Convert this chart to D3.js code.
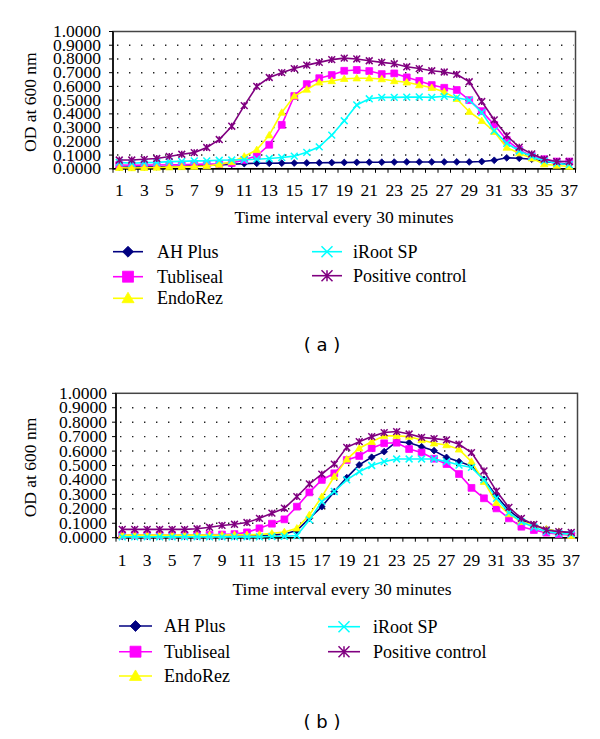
<!DOCTYPE html>
<html>
<head>
<meta charset="utf-8">
<script src="https://cdn.jsdelivr.net/npm/d3@7"></script>
<style>
  html, body { margin: 0; padding: 0; background: #fff; }
  svg { display: block; }
</style>
</head>
<body>
<svg id="chart" width="600" height="739"></svg>
<script>
// ---------------- DATA ----------------
const categories = ["1","2","3","4","5","6","7","8","9","10","11","12","13","14","15","16","17","18","19","20",
  "21","22","23","24","25","26","27","28","29","30","31","32","33","34","35","36","37"];
const xTickLabels = ["1","3","5","7","9","11","13","15","17","19","21","23","25","27","29","31","33","35","37"];
const yTickValues = [0, 0.1, 0.2, 0.3, 0.4, 0.5, 0.6, 0.7, 0.8, 0.9, 1.0];
const seriesNames = ["AH Plus", "Tubliseal", "EndoRez", "iRoot SP", "Positive control"];
const seriesColors = ["#000080", "#FF00FF", "#FFFF00", "#00FFFF", "#800080"];
const seriesMarkers = ["diamond", "square", "triangle", "x", "star"];

// Panel (a)
const aAHPlus = [0.011,0.012,0.013,0.015,0.017,0.019,0.021,0.024,0.028,0.033,0.038,0.040,0.040,0.041,0.042,0.043,0.044,0.045,0.046,0.047,0.048,0.048,0.049,0.050,0.050,0.050,0.050,0.050,0.050,0.053,0.062,0.080,0.077,0.070,0.053,0.042,0.032];
const aTubliseal = [0.028,0.026,0.027,0.028,0.029,0.030,0.032,0.034,0.036,0.042,0.065,0.095,0.175,0.320,0.530,0.617,0.660,0.683,0.714,0.720,0.712,0.690,0.695,0.666,0.640,0.610,0.590,0.574,0.500,0.420,0.320,0.210,0.138,0.094,0.070,0.053,0.053];
const aEndoRez = [0.008,0.006,0.008,0.010,0.012,0.014,0.016,0.020,0.032,0.050,0.090,0.138,0.245,0.410,0.530,0.578,0.630,0.640,0.656,0.660,0.660,0.654,0.640,0.630,0.610,0.590,0.560,0.510,0.416,0.350,0.270,0.155,0.114,0.077,0.034,0.024,0.017];
const aiRootSP = [0.047,0.040,0.045,0.047,0.052,0.054,0.058,0.058,0.062,0.064,0.066,0.070,0.075,0.082,0.092,0.120,0.160,0.245,0.350,0.465,0.510,0.520,0.520,0.522,0.523,0.520,0.528,0.518,0.500,0.410,0.276,0.186,0.130,0.090,0.058,0.040,0.030];
const aPositive = [0.064,0.064,0.069,0.075,0.090,0.106,0.118,0.155,0.213,0.310,0.460,0.600,0.665,0.700,0.730,0.755,0.775,0.795,0.806,0.800,0.787,0.775,0.765,0.743,0.730,0.714,0.705,0.688,0.634,0.490,0.356,0.242,0.157,0.109,0.070,0.053,0.053];

// Panel (b)
const bAHPlus = [0.010,0.010,0.010,0.010,0.010,0.010,0.010,0.010,0.010,0.010,0.010,0.012,0.018,0.026,0.050,0.134,0.215,0.319,0.416,0.504,0.557,0.596,0.665,0.658,0.630,0.603,0.556,0.527,0.496,0.404,0.289,0.190,0.122,0.088,0.058,0.042,0.030];
const bTubliseal = [0.018,0.018,0.018,0.018,0.018,0.018,0.018,0.020,0.022,0.025,0.037,0.065,0.097,0.127,0.215,0.314,0.400,0.446,0.538,0.566,0.620,0.654,0.658,0.614,0.590,0.547,0.510,0.441,0.345,0.273,0.203,0.134,0.076,0.053,0.035,0.025,0.018];
const bEndoRez = [0.018,0.018,0.018,0.018,0.018,0.018,0.018,0.018,0.018,0.020,0.020,0.022,0.030,0.040,0.065,0.157,0.284,0.423,0.543,0.620,0.665,0.705,0.705,0.700,0.677,0.654,0.642,0.612,0.527,0.388,0.242,0.164,0.110,0.088,0.058,0.042,0.014];
const biRootSP = [0.006,0.006,0.006,0.006,0.006,0.006,0.006,0.006,0.006,0.006,0.006,0.006,0.008,0.010,0.015,0.123,0.250,0.320,0.400,0.457,0.500,0.527,0.545,0.545,0.545,0.545,0.527,0.503,0.487,0.400,0.273,0.173,0.110,0.072,0.042,0.030,0.025];
const bPositive = [0.058,0.058,0.058,0.058,0.058,0.058,0.062,0.072,0.085,0.093,0.105,0.134,0.170,0.204,0.284,0.372,0.440,0.510,0.626,0.665,0.700,0.728,0.735,0.718,0.695,0.686,0.677,0.647,0.589,0.462,0.323,0.210,0.134,0.092,0.053,0.042,0.037];

const yAxisTitle = "OD at 600 nm";
const xAxisTitle = "Time interval every 30 minutes";
const panelLabels = ["( a )", "( b )"];

// ---------------- LAYOUT ----------------
const panels = [
  { series: [aAHPlus, aTubliseal, aEndoRez, aiRootSP, aPositive], label: panelLabels[0],
    left: 113, right: 575.5, top: 31.5, bottom: 168.8,
    yLabelRight: 101, yTitleX: 30, xLabelY: 196, xTitleY: 223, xTitleX: 344,
    legL: { lineX0: 113, lineX1: 143, textX: 157, rows: [251.7, 276.7, 298.3] },
    legR: { lineX0: 312, lineX1: 342, textX: 353, rows: [251.7, 275.7] },
    panelLabelY: 351 },
  { series: [bAHPlus, bTubliseal, bEndoRez, biRootSP, bPositive], label: panelLabels[1],
    left: 116, right: 577.5, top: 393.3, bottom: 537.7,
    yLabelRight: 107, yTitleX: 30, xLabelY: 566, xTitleY: 595, xTitleX: 342,
    legL: { lineX0: 119, lineX1: 152, textX: 164, rows: [626, 651.7, 676] },
    legR: { lineX0: 328, lineX1: 360, textX: 373, rows: [626.7, 651.7] },
    panelLabelY: 728 }
];

const svg = d3.select("#chart");
const serif = "'Liberation Serif', 'Times New Roman', serif";

function markerPath(type, h) {
  switch (type) {
    case "diamond": return `M0,${-h}L${h},0L0,${h}L${-h},0Z`;
    case "square": return `M${-h},${-h}H${h}V${h}H${-h}Z`;
    case "triangle": return `M0,${-h*1.1}L${h*1.1},${h*0.8}L${-h*1.1},${h*0.8}Z`;
    case "x": return `M${-h},${-h}L${h},${h}M${-h},${h}L${h},${-h}`;
    case "star": return `M${-h},${-h}L${h},${h}M${-h},${h}L${h},${-h}M0,${-h}V${h}`;
  }
}
function drawMarker(g, type, color, x, y, h) {
  const stroked = (type === "x" || type === "star");
  g.append("path")
    .attr("transform", `translate(${x},${y})`)
    .attr("d", markerPath(type, h))
    .attr("fill", stroked ? "none" : color)
    .attr("stroke", color)
    .attr("stroke-width", stroked ? 1.5 : 0.8);
}

panels.forEach(p => {
  const x = d3.scaleBand().domain(categories).range([p.left, p.right]).padding(0);
  const y = d3.scaleLinear().domain([0, 1]).range([p.bottom, p.top]);
  const cx = c => x(c) + x.bandwidth() / 2;
  const g = svg.append("g");

  // dotted gridlines
  g.selectAll(".grid").data(yTickValues.filter(v => v > 0 && v < 1)).enter()
    .append("line")
    .attr("x1", p.left + 4).attr("x2", p.right - 2)
    .attr("y1", d => y(d)).attr("y2", d => y(d))
    .attr("stroke", "#222").attr("stroke-width", 1.4)
    .attr("stroke-dasharray", "1.4,10.6");

  // plot box
  g.append("rect")
    .attr("x", p.left).attr("y", p.top)
    .attr("width", p.right - p.left).attr("height", p.bottom - p.top)
    .attr("fill", "none").attr("stroke", "#444").attr("stroke-width", 1.5);

  // y axis ticks & labels
  g.selectAll(".yt").data(yTickValues).enter().append("line")
    .attr("x1", p.left - 4).attr("x2", p.left)
    .attr("y1", d => y(d)).attr("y2", d => y(d))
    .attr("stroke", "#000").attr("stroke-width", 1);
  g.selectAll(".yl").data(yTickValues).enter().append("text")
    .attr("x", p.yLabelRight).attr("y", d => y(d) + 5.5)
    .attr("text-anchor", "end")
    .attr("font-family", serif).attr("font-size", 17.5).attr("fill", "#000")
    .text(d => d3.format(".4f")(d));

  // x axis ticks at category boundaries
  const bounds = categories.map(c => x(c)).concat([p.right]);
  g.selectAll(".xt").data(bounds).enter().append("line")
    .attr("x1", d => d).attr("x2", d => d)
    .attr("y1", p.bottom).attr("y2", p.bottom + 4)
    .attr("stroke", "#000").attr("stroke-width", 1);
  g.selectAll(".xl").data(xTickLabels).enter().append("text")
    .attr("x", d => cx(d)).attr("y", p.xLabelY)
    .attr("text-anchor", "middle")
    .attr("font-family", serif).attr("font-size", 17.5).attr("fill", "#000")
    .text(d => d);

  // axis lines
  g.append("line").attr("x1", p.left).attr("x2", p.left).attr("y1", p.top).attr("y2", p.bottom)
    .attr("stroke", "#000").attr("stroke-width", 1.5);
  g.append("line").attr("x1", p.left).attr("x2", p.right).attr("y1", p.bottom).attr("y2", p.bottom)
    .attr("stroke", "#000").attr("stroke-width", 1.5);

  // titles
  g.append("text")
    .attr("transform", `translate(${p.yTitleX + 6},${(p.top + p.bottom) / 2 + 2}) rotate(-90)`)
    .attr("text-anchor", "middle")
    .attr("font-family", serif).attr("font-size", 17.5).attr("fill", "#000")
    .text(yAxisTitle);
  g.append("text")
    .attr("x", p.xTitleX).attr("y", p.xTitleY)
    .attr("text-anchor", "middle")
    .attr("font-family", serif).attr("font-size", 17.5).attr("fill", "#000")
    .text(xAxisTitle);

  // series
  const line = d3.line().x((d, i) => cx(categories[i])).y(d => y(d));
  p.series.forEach((vals, si) => {
    const sg = g.append("g");
    sg.append("path").datum(vals)
      .attr("d", line).attr("fill", "none")
      .attr("stroke", seriesColors[si]).attr("stroke-width", 1.6);
    vals.forEach((v, i) => drawMarker(sg, seriesMarkers[si], seriesColors[si], cx(categories[i]), y(v), 3.4));
  });

  // legend
  const legItems = seriesNames.map((n, i) => ({ name: n, i }));
  legItems.forEach(it => {
    const col = it.i < 3 ? p.legL : p.legR;
    const row = it.i < 3 ? it.i : it.i - 3;
    const ly = col.rows[row];
    g.append("line").attr("x1", col.lineX0).attr("x2", col.lineX1)
      .attr("y1", ly).attr("y2", ly)
      .attr("stroke", seriesColors[it.i]).attr("stroke-width", 1.6);
    drawMarker(g, seriesMarkers[it.i], seriesColors[it.i], (col.lineX0 + col.lineX1) / 2, ly, 5.5);
    g.append("text").attr("x", col.textX).attr("y", ly + 6)
      .attr("font-family", serif).attr("font-size", 18).attr("fill", "#000")
      .text(it.name);
  });

  // panel label
  g.append("text").attr("x", 322).attr("y", p.panelLabelY)
    .attr("text-anchor", "middle")
    .attr("font-family", "'DejaVu Sans', Verdana, sans-serif").attr("font-size", 18).attr("fill", "#000")
    .attr("xml:space", "preserve")
    .text(p.label);
});
</script>
</body>
</html>
